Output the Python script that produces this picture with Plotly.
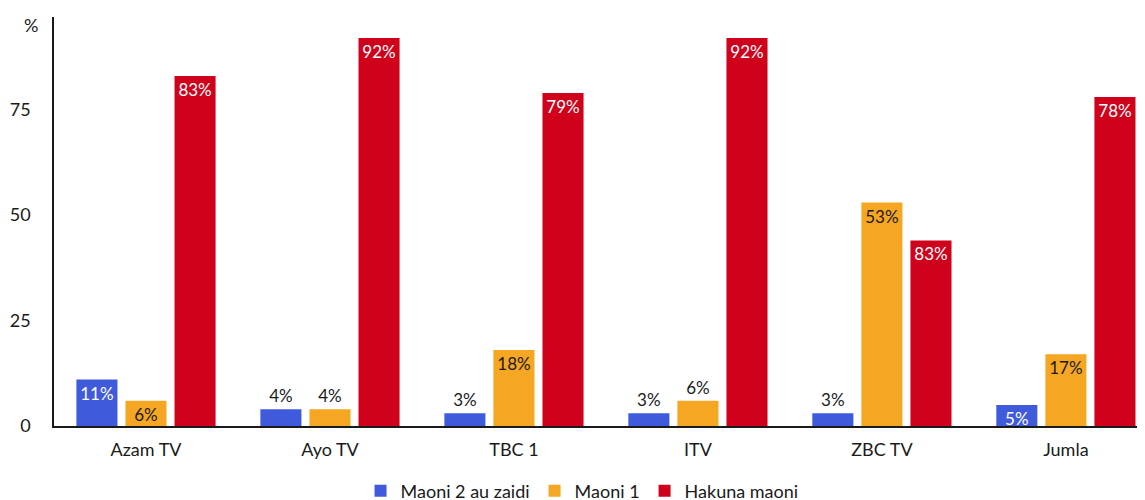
import plotly.graph_objects as go

categories = ['Azam TV', 'Ayo TV', 'TBC 1', 'ITV', 'ZBC TV', 'Jumla']
series_names = ['Maoni 2 au zaidi', 'Maoni 1', 'Hakuna maoni']

maoni_2 = [11, 4, 3, 3, 3, 5]
maoni_1 = [6, 4, 18, 6, 53, 17]
hakuna = [83, 92, 79, 92, 44, 78]

# labels as printed on the bars (the ZBC TV red bar reads 83%)
maoni_2_labels = ['11%', '4%', '3%', '3%', '3%', '5%']
maoni_1_labels = ['6%', '4%', '18%', '6%', '53%', '17%']
hakuna_labels = ['83%', '92%', '79%', '92%', '83%', '78%']

maoni_2_pos = ['inside', 'outside', 'outside', 'outside', 'outside', 'inside']
maoni_1_pos = ['inside', 'outside', 'inside', 'outside', 'inside', 'inside']
hakuna_pos = ['inside'] * 6

COLORS = ['#3F5BDB', '#F5A623', '#D0021B']
INSIDE_TEXT = ['white', '#1a1a1a', 'white']
FONT = 'Lato, "Open Sans", sans-serif'

fig = go.Figure()
for name, vals, labels, pos, col, txtcol in zip(
        series_names, [maoni_2, maoni_1, hakuna],
        [maoni_2_labels, maoni_1_labels, hakuna_labels],
        [maoni_2_pos, maoni_1_pos, hakuna_pos], COLORS, INSIDE_TEXT):
    fig.add_trace(go.Bar(
        name=name, x=categories, y=vals,
        marker=dict(color=col, line=dict(width=0)),
        text=labels, textposition=pos,
        insidetextanchor='end',
        insidetextfont=dict(color=txtcol, size=17, family=FONT),
        outsidetextfont=dict(color='#1a1a1a', size=17, family=FONT),
        constraintext='none', cliponaxis=False,
    ))

fig.add_annotation(
    text='%', xref='paper', yref='paper', x=-0.021, y=0.98,
    xanchor='center', yanchor='middle', showarrow=False,
    font=dict(size=18, color='#1a1a1a', family=FONT),
)

# the page body adds an 8px offset, so the margins are shifted to compensate
fig.update_layout(
    width=1145, height=500,
    barmode='group', bargap=0.2, bargroupgap=0.163,
    plot_bgcolor='white', paper_bgcolor='white',
    font=dict(family=FONT, size=18, color='#1a1a1a'),
    margin=dict(l=46, r=8, t=9, b=82, autoexpand=False),
    showlegend=True,
    legend=dict(orientation='h', x=0.484, xanchor='center', y=-0.159, yanchor='middle',
                font=dict(size=18), traceorder='normal'),
    xaxis=dict(range=[-0.5, 5.43], showline=True, linecolor='#1a1a1a', linewidth=1.5,
               showgrid=False, ticks='', tickfont=dict(size=18), automargin=False,
               ticklabelstandoff=7),
    yaxis=dict(range=[0, 97], showline=True, linecolor='#1a1a1a', linewidth=1.5,
               showgrid=False, zeroline=False, tickvals=[0, 25, 50, 75], ticks='',
               ticklabelstandoff=18, tickfont=dict(size=18), automargin=False),
)

fig.write_html('out.html')
